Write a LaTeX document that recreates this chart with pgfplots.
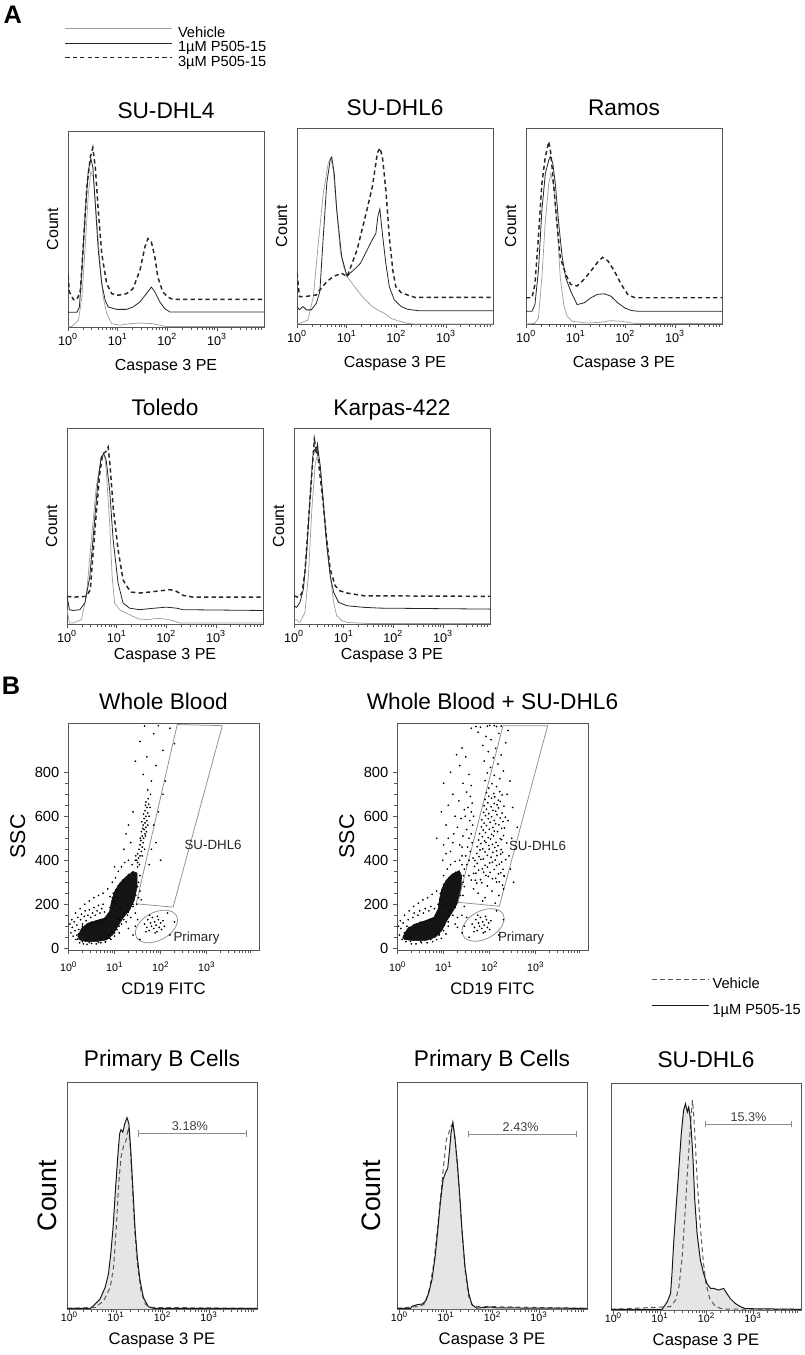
\documentclass[border=0pt]{standalone}
\usepackage{fontspec}
\setmainfont{Liberation Sans}
\usepackage{pgfplots}
\usepackage{pgfplotstable}
\pgfplotsset{compat=1.18}
\usetikzlibrary{arrows.meta}

\definecolor{vehc}{HTML}{A0A0A0}
\definecolor{boxc}{HTML}{555555}
\definecolor{gatec}{HTML}{8C8C8C}
\newcommand{\fs}[1]{\fontsize{#1}{#1}\selectfont}

% x is stored as log10 of the intensity (lx), y as percent of the panel height
% ---------- panel A ----------
\pgfplotstableread[row sep=\\]{lx y\\ 0.00 0\\ 0.08 0.3\\ 0.21 3.4\\ 0.28 15.3\\ 0.35 42.5\\ 0.41 68\\ 0.46 79.1\\ 0.51 76.5\\ 0.58 54.4\\ 0.65 30.6\\ 0.71 15.3\\ 0.78 6.8\\ 0.88 1.7\\ 1.05 0.9\\ 1.25 1.7\\ 1.45 2.0\\ 1.71 1.7\\ 1.85 0.9\\ 1.98 0.2\\ 3.95 0.2\\}\dlfourV
\pgfplotstableread[row sep=\\]{lx y\\ 0.00 7.5\\ 0.18 7.5\\ 0.23 10.2\\ 0.28 28.9\\ 0.35 59.5\\ 0.41 79.9\\ 0.46 85.9\\ 0.50 81.6\\ 0.55 62.9\\ 0.61 39.1\\ 0.68 22.1\\ 0.75 13.6\\ 0.81 10.2\\ 0.98 9.0\\ 1.18 9.0\\ 1.31 10.2\\ 1.45 12.8\\ 1.58 17.0\\ 1.68 20.4\\ 1.75 17.9\\ 1.85 12.8\\ 1.95 9.4\\ 2.05 7.7\\ 3.95 7.7\\}\dlfourL
\pgfplotstableread[row sep=\\]{lx y\\ 0.00 26.4\\ 0.03 17.9\\ 0.11 13.9\\ 0.18 13.9\\ 0.25 18.7\\ 0.31 42.5\\ 0.38 71.4\\ 0.45 86.7\\ 0.50 91.5\\ 0.55 81.6\\ 0.61 59.5\\ 0.68 37.4\\ 0.78 22.1\\ 0.88 17.0\\ 1.01 16.2\\ 1.18 17.0\\ 1.31 19.6\\ 1.45 28.9\\ 1.55 40.8\\ 1.61 45.1\\ 1.68 43.4\\ 1.75 35.7\\ 1.81 25.5\\ 1.91 17.9\\ 2.01 15.3\\ 2.11 14.1\\ 3.95 14.1\\}\dlfourH

\pgfplotstableread[row sep=\\]{lx y\\ 0.00 0\\ 0.05 0.3\\ 0.22 2.0\\ 0.33 14.0\\ 0.43 41.2\\ 0.53 66.8\\ 0.63 82.1\\ 0.68 84.7\\ 0.73 78.7\\ 0.80 58.3\\ 0.87 37.5\\ 0.94 29.3\\ 1.01 24.2\\ 1.11 20.8\\ 1.21 17.4\\ 1.35 13.1\\ 1.48 9.7\\ 1.62 7.2\\ 1.76 5.5\\ 1.89 2.9\\ 2.03 1.7\\ 2.23 0.3\\ 2.37 0\\ 3.95 0\\}\dlsixV
\pgfplotstableread[row sep=\\]{lx y\\ 0.00 8.9\\ 0.05 7.2\\ 0.12 8.9\\ 0.19 7.2\\ 0.29 7.2\\ 0.39 10.6\\ 0.46 16.5\\ 0.53 44.6\\ 0.60 71.9\\ 0.67 83.8\\ 0.70 85.2\\ 0.75 77.0\\ 0.80 58.3\\ 0.90 34.4\\ 1.01 24.2\\ 1.07 25.9\\ 1.18 28.4\\ 1.28 31.0\\ 1.38 36.1\\ 1.48 41.2\\ 1.59 46.3\\ 1.63 54.9\\ 1.67 58.6\\ 1.72 46.3\\ 1.79 31.0\\ 1.86 19.1\\ 1.96 12.3\\ 2.10 8.9\\ 2.23 7.5\\ 2.44 6.8\\ 3.95 6.8\\}\dlsixL
\pgfplotstableread[row sep=\\]{lx y\\ 0.00 25.9\\ 0.05 14.0\\ 0.16 14.0\\ 0.39 14.8\\ 0.46 17.4\\ 0.60 21.6\\ 0.73 24.2\\ 0.90 25.9\\ 1.01 24.2\\ 1.11 31.0\\ 1.21 37.8\\ 1.31 48.0\\ 1.41 58.3\\ 1.52 70.2\\ 1.62 87.2\\ 1.67 89.8\\ 1.72 85.5\\ 1.79 68.5\\ 1.86 44.6\\ 1.93 27.6\\ 1.99 19.1\\ 2.10 16.0\\ 2.23 14.8\\ 2.37 13.6\\ 3.95 13.6\\}\dlsixH

\pgfplotstableread[row sep=\\]{lx y\\ 0.00 0\\ 0.18 0.3\\ 0.25 3.1\\ 0.32 23.7\\ 0.39 52.8\\ 0.46 71.7\\ 0.50 76.8\\ 0.56 70.0\\ 0.63 49.4\\ 0.69 23.7\\ 0.76 9.9\\ 0.83 3.9\\ 0.93 1.4\\ 1.24 0.5\\ 1.51 0.9\\ 1.71 1.7\\ 1.92 1.4\\ 2.19 0.3\\ 3.95 0.3\\}\ramV
\pgfplotstableread[row sep=\\]{lx y\\ 0.00 6.5\\ 0.12 6.5\\ 0.18 9.9\\ 0.25 27.1\\ 0.32 58.0\\ 0.39 76.8\\ 0.46 83.7\\ 0.49 85.4\\ 0.54 82.0\\ 0.59 71.7\\ 0.66 51.1\\ 0.73 34.0\\ 0.80 23.7\\ 0.90 16.8\\ 1.03 9.9\\ 1.17 10.8\\ 1.31 13.4\\ 1.44 15.1\\ 1.58 15.4\\ 1.71 14.2\\ 1.85 10.8\\ 1.99 8.2\\ 2.12 6.9\\ 2.26 6.5\\ 3.95 6.5\\}\ramL
\pgfplotstableread[row sep=\\]{lx y\\ 0.00 13.4\\ 0.12 13.4\\ 0.18 20.2\\ 0.25 44.3\\ 0.32 71.7\\ 0.39 85.4\\ 0.46 93.1\\ 0.50 87.1\\ 0.56 70.0\\ 0.63 49.4\\ 0.69 34.0\\ 0.80 25.4\\ 0.90 20.2\\ 1.03 19.4\\ 1.17 22.8\\ 1.31 27.1\\ 1.44 31.4\\ 1.54 34.0\\ 1.65 32.2\\ 1.78 27.1\\ 1.92 20.2\\ 2.05 15.1\\ 2.19 13.4\\ 3.95 13.4\\}\ramH

\pgfplotstableread[row sep=\\]{lx y\\ 0.00 7.3\\ 0.05 0.5\\ 0.12 0.5\\ 0.29 2.2\\ 0.39 14.1\\ 0.49 42.9\\ 0.59 70.0\\ 0.69 85.3\\ 0.76 86.1\\ 0.79 78.5\\ 0.86 51.4\\ 0.91 24.2\\ 0.96 10.7\\ 1.06 7.3\\ 1.19 5.6\\ 1.33 3.9\\ 1.46 2.5\\ 1.66 2.2\\ 1.80 2.9\\ 2.00 2.5\\ 2.13 1.7\\ 2.27 0.5\\ 3.95 0.5\\}\tolV
\pgfplotstableread[row sep=\\]{lx y\\ 0.00 14.1\\ 0.05 7.3\\ 0.12 6.9\\ 0.26 7.3\\ 0.36 10.7\\ 0.46 24.2\\ 0.54 48.0\\ 0.62 71.7\\ 0.69 85.3\\ 0.74 86.9\\ 0.79 83.6\\ 0.86 68.3\\ 0.93 42.9\\ 1.03 20.8\\ 1.13 10.7\\ 1.26 8.1\\ 1.46 7.3\\ 1.73 8.0\\ 2.00 8.6\\ 2.20 8.1\\ 2.34 7.3\\ 3.95 6.9\\}\tolL
\pgfplotstableread[row sep=\\]{lx y\\ 0.00 14.1\\ 0.12 13.7\\ 0.39 14.1\\ 0.47 17.5\\ 0.52 34.4\\ 0.59 56.4\\ 0.66 76.8\\ 0.72 86.9\\ 0.78 87.8\\ 0.83 90.3\\ 0.87 80.2\\ 0.93 59.8\\ 1.03 37.8\\ 1.13 22.5\\ 1.23 18.3\\ 1.30 16.3\\ 1.46 15.8\\ 1.66 16.3\\ 1.87 16.9\\ 2.07 17.5\\ 2.17 17.1\\ 2.27 15.8\\ 2.34 14.6\\ 2.54 13.7\\ 3.95 13.7\\}\tolH

\pgfplotstableread[row sep=\\]{lx y\\ 0.00 3.0\\ 0.12 0.8\\ 0.22 5.9\\ 0.29 24.6\\ 0.36 58.5\\ 0.43 82.2\\ 0.47 85.6\\ 0.53 80.5\\ 0.59 63.6\\ 0.66 43.2\\ 0.73 24.6\\ 0.80 11.0\\ 0.86 4.2\\ 0.97 1.7\\ 1.07 0.8\\ 1.47 0.3\\ 3.95 0.3\\}\karV
\pgfplotstableread[row sep=\\]{lx y\\ 0.00 9.3\\ 0.05 8.5\\ 0.12 11.0\\ 0.19 17.8\\ 0.26 38.1\\ 0.32 63.6\\ 0.38 85.6\\ 0.41 89.0\\ 0.45 87.3\\ 0.48 89.8\\ 0.53 80.5\\ 0.59 61.9\\ 0.66 39.8\\ 0.73 24.6\\ 0.80 16.1\\ 0.90 11.0\\ 1.07 9.3\\ 1.41 8.5\\ 1.74 8.1\\ 3.95 7.6\\}\karL
\pgfplotstableread[row sep=\\]{lx y\\ 0.00 14.4\\ 0.09 13.6\\ 0.16 15.8\\ 0.22 26.3\\ 0.29 51.7\\ 0.36 77.1\\ 0.41 94.1\\ 0.45 88.1\\ 0.47 90.7\\ 0.51 78.8\\ 0.58 63.6\\ 0.65 44.9\\ 0.73 28.0\\ 0.83 19.5\\ 0.93 16.9\\ 1.07 15.8\\ 1.41 14.4\\ 3.95 14.1\\}\karH

% ---------- panel B: histograms ----------
\pgfplotstableread[row sep=\\]{lx y\\ -0.05 0.3\\ 0.45 0.3\\ 0.52 1.5\\ 0.66 4.4\\ 0.77 9.6\\ 0.84 15.4\\ 0.89 24.3\\ 0.94 36.0\\ 0.99 52.2\\ 1.04 66.9\\ 1.08 77.2\\ 1.11 79.0\\ 1.15 77.9\\ 1.19 81.6\\ 1.24 84.3\\ 1.28 81.6\\ 1.32 69.9\\ 1.36 55.1\\ 1.41 36.0\\ 1.46 22.8\\ 1.52 12.5\\ 1.59 5.1\\ 1.70 1.0\\ 1.81 0.3\\ 4.03 0.3\\}\hOneL
\pgfplotstableread[row sep=\\]{lx y\\ -0.05 0.3\\ 0.56 0.7\\ 0.74 3.7\\ 0.88 9.6\\ 0.95 18.4\\ 1.01 36.0\\ 1.06 55.1\\ 1.11 66.9\\ 1.16 71.3\\ 1.22 74.3\\ 1.27 80.1\\ 1.31 71.3\\ 1.36 52.2\\ 1.41 33.1\\ 1.47 18.4\\ 1.54 8.1\\ 1.63 2.2\\ 1.74 0.7\\ 4.03 0.3\\}\hOneV
\pgfplotstableread[row sep=\\]{lx y\\ -0.05 0.3\\ 0.24 0.3\\ 0.27 1.2\\ 0.38 1.9\\ 0.49 2.2\\ 0.56 3.4\\ 0.63 7.0\\ 0.70 12.9\\ 0.77 23.2\\ 0.82 33.5\\ 0.88 46.7\\ 0.94 57.0\\ 0.99 59.9\\ 1.04 62.1\\ 1.08 70.2\\ 1.11 77.5\\ 1.15 82.2\\ 1.19 76.1\\ 1.24 65.8\\ 1.29 52.6\\ 1.34 36.4\\ 1.41 18.8\\ 1.49 7.0\\ 1.56 1.9\\ 1.66 0.4\\ 1.95 0.9\\ 2.09 0.5\\ 4.03 0.3\\}\hTwoL
\pgfplotstableread[row sep=\\]{lx y\\ -0.05 0.3\\ 0.45 1.2\\ 0.56 2.6\\ 0.66 10.0\\ 0.74 20.3\\ 0.81 33.5\\ 0.88 48.2\\ 0.95 62.8\\ 1.01 74.6\\ 1.06 77.5\\ 1.11 80.5\\ 1.15 81.9\\ 1.20 74.6\\ 1.27 57.0\\ 1.34 36.4\\ 1.41 17.3\\ 1.49 5.6\\ 1.58 1.2\\ 4.03 0.3\\}\hTwoV
\pgfplotstableread[row sep=\\]{lx y\\ -0.05 0.3\\ 1.05 0.3\\ 1.09 1.5\\ 1.16 3.7\\ 1.23 7.3\\ 1.26 16.1\\ 1.30 30.8\\ 1.36 48.4\\ 1.41 63.0\\ 1.46 77.7\\ 1.51 88.0\\ 1.55 90.9\\ 1.59 87.2\\ 1.62 89.4\\ 1.66 83.6\\ 1.71 67.4\\ 1.75 48.4\\ 1.80 33.7\\ 1.87 22.0\\ 1.94 16.1\\ 2.01 11.7\\ 2.09 9.5\\ 2.16 9.5\\ 2.26 8.8\\ 2.37 9.5\\ 2.44 7.3\\ 2.51 5.1\\ 2.62 2.9\\ 2.73 1.5\\ 2.84 0.6\\ 4.03 0.3\\}\hThreeL
\pgfplotstableread[row sep=\\]{lx y\\ -0.05 0.3\\ 1.23 1.5\\ 1.34 4.4\\ 1.41 10.3\\ 1.48 23.5\\ 1.54 42.5\\ 1.59 60.1\\ 1.64 76.2\\ 1.67 85.0\\ 1.70 92.4\\ 1.73 85.0\\ 1.77 70.4\\ 1.81 54.3\\ 1.87 36.7\\ 1.93 22.0\\ 1.99 11.7\\ 2.07 5.1\\ 2.17 2.2\\ 2.30 0.7\\ 2.44 0.4\\ 4.03 0.3\\}\hThreeV

% ---------- panel B: scatter (dense core outline + events) ----------
\pgfplotstableread[row sep=\\]{lx y\\ 0.20 53\\ 0.28 91\\ 0.42 114\\ 0.60 126\\ 0.78 137\\ 0.89 167\\ 0.93 213\\ 1.00 258\\ 1.11 296\\ 1.25 326\\ 1.40 349\\ 1.49 342\\ 1.49 281\\ 1.43 220\\ 1.33 175\\ 1.18 137\\ 1.07 99\\ 0.96 61\\ 0.82 38\\ 0.60 30\\ 0.38 30\\ 0.24 38\\ 0.20 53\\}\wbcore
\pgfplotstableread[row sep=\\]{lx y\\
0.05 70\\ 0.08 95\\ 0.10 55\\ 0.12 120\\ 0.14 80\\ 0.16 40\\ 0.18 105\\ 0.20 140\\ 0.22 65\\ 0.24 25\\ 0.26 130\\ 0.28 155\\ 0.30 110\\ 0.32 20\\ 0.34 145\\ 0.36 170\\ 0.38 125\\ 0.40 18\\ 0.42 150\\ 0.45 175\\ 0.48 140\\ 0.50 22\\ 0.52 160\\ 0.55 185\\ 0.58 150\\ 0.60 20\\ 0.62 170\\ 0.65 195\\ 0.68 160\\ 0.70 25\\ 0.72 180\\ 0.75 200\\ 0.78 165\\ 0.80 28\\ 0.85 45\\ 0.88 60\\ 0.92 40\\ 0.95 75\\ 1.00 55\\ 1.05 85\\ 1.10 70\\ 1.15 110\\ 0.03 110\\ 0.07 130\\ 0.15 160\\ 0.25 180\\ 0.35 200\\ 0.45 215\\ 0.55 230\\ 0.65 240\\ 0.75 250\\ 0.85 270\\ 0.90 235\\ 0.95 300\\ 0.98 210\\
0.18 60\\ 0.22 85\\ 0.30 100\\ 0.40 108\\ 0.50 118\\ 0.62 122\\ 0.70 128\\ 0.80 133\\ 0.86 155\\ 0.90 185\\ 0.95 230\\ 1.02 265\\ 1.08 285\\ 1.18 310\\ 1.30 335\\ 1.38 345\\ 1.50 280\\ 1.46 240\\ 1.40 200\\ 1.30 165\\ 1.20 130\\ 1.10 100\\ 1.00 70\\ 0.90 45\\ 0.80 30\\ 0.65 26\\ 0.45 26\\ 0.30 30\\ 0.20 42\\
1.02 320\\ 1.05 200\\ 1.08 350\\ 1.12 180\\ 1.15 370\\ 1.20 160\\ 1.22 390\\ 1.28 150\\ 1.30 400\\ 1.35 140\\ 1.38 380\\ 1.45 160\\ 1.48 200\\ 1.52 230\\ 1.55 260\\ 1.52 300\\ 1.55 330\\ 1.50 370\\ 1.45 400\\ 1.00 370\\ 0.97 250\\ 1.10 130\\ 1.25 120\\ 1.40 190\\ 1.58 220\\
1.48 400\\ 1.52 410\\ 1.55 420\\ 1.50 430\\ 1.58 440\\ 1.53 450\\ 1.60 460\\ 1.55 470\\ 1.62 480\\ 1.57 490\\ 1.63 500\\ 1.60 510\\ 1.66 520\\ 1.58 530\\ 1.64 540\\ 1.68 550\\ 1.62 560\\ 1.66 570\\ 1.70 580\\ 1.64 590\\ 1.68 600\\ 1.72 615\\ 1.66 625\\ 1.70 640\\ 1.74 655\\ 1.68 665\\ 1.73 680\\ 1.50 390\\ 1.46 420\\ 1.54 380\\ 1.60 420\\ 1.65 450\\ 1.56 500\\ 1.67 510\\ 1.61 545\\ 1.59 575\\ 1.69 530\\ 1.72 560\\ 1.63 610\\ 1.75 600\\ 1.67 650\\ 1.77 640\\
1.78 700\\ 1.72 720\\ 1.80 760\\ 1.62 790\\ 1.90 830\\ 1.70 870\\ 2.05 900\\ 1.55 940\\ 1.85 975\\ 2.20 1000\\ 1.95 1012\\ 1.65 1010\\ 2.10 760\\ 1.45 850\\ 2.30 930\\
1.85 560\\ 1.95 620\\ 1.90 480\\ 2.05 700\\ 1.80 450\\ 2.00 400\\ 1.75 380\\ 1.30 560\\ 1.40 620\\ 1.35 480\\ 1.20 450\\ 1.25 520\\
1.65 110\\ 1.70 95\\ 1.72 130\\ 1.75 80\\ 1.78 115\\ 1.80 100\\ 1.82 140\\ 1.85 90\\ 1.87 120\\ 1.90 105\\ 1.92 75\\ 1.95 130\\ 1.97 95\\ 2.00 115\\ 2.02 85\\ 2.05 125\\ 1.88 70\\ 1.76 150\\ 1.68 75\\ 1.93 145\\ 2.08 100\\ 1.45 100\\ 1.50 130\\ 1.40 60\\ 1.55 40\\ 1.30 90\\ 2.20 60\\ 2.15 160\\ 2.30 120\\}\wbdots

\pgfplotstableread[row sep=\\]{lx y\\ 0.11 50\\ 0.21 88\\ 0.39 111\\ 0.61 126\\ 0.79 141\\ 0.88 179\\ 0.91 224\\ 0.96 270\\ 1.05 308\\ 1.19 338\\ 1.34 353\\ 1.39 330\\ 1.38 270\\ 1.31 209\\ 1.19 164\\ 1.07 126\\ 0.96 80\\ 0.82 50\\ 0.61 35\\ 0.36 35\\ 0.16 39\\ 0.11 50\\}\wscore
\pgfplotstableread[row sep=\\]{lx y\\
0.04 60\\ 0.07 90\\ 0.10 40\\ 0.12 115\\ 0.15 70\\ 0.18 30\\ 0.20 100\\ 0.23 130\\ 0.26 55\\ 0.30 20\\ 0.33 140\\ 0.36 160\\ 0.40 20\\ 0.44 150\\ 0.48 170\\ 0.52 25\\ 0.56 160\\ 0.60 180\\ 0.64 25\\ 0.68 170\\ 0.72 190\\ 0.76 30\\ 0.80 180\\ 0.85 40\\ 0.90 60\\ 0.95 45\\ 1.00 80\\ 1.05 65\\ 1.10 100\\ 0.02 100\\ 0.06 125\\ 0.15 150\\ 0.25 170\\ 0.35 190\\ 0.45 205\\ 0.55 220\\ 0.65 230\\ 0.75 245\\ 0.85 260\\ 0.92 220\\
0.14 45\\ 0.25 95\\ 0.35 105\\ 0.50 118\\ 0.70 130\\ 0.84 150\\ 0.88 200\\ 0.93 250\\ 1.00 290\\ 1.12 320\\ 1.26 345\\ 1.42 300\\ 1.36 240\\ 1.25 185\\ 1.12 145\\ 1.02 105\\ 0.90 65\\ 0.72 40\\ 0.50 30\\ 0.28 32\\
1.00 330\\ 1.05 200\\ 1.08 360\\ 1.12 170\\ 1.15 380\\ 1.20 150\\ 1.25 395\\ 1.30 140\\ 1.35 400\\ 1.40 150\\ 1.45 190\\ 1.42 240\\ 1.45 280\\ 1.43 330\\ 1.40 380\\ 0.96 260\\ 1.10 120\\ 1.25 110\\ 0.98 400\\ 1.05 430\\ 1.15 440\\ 1.20 480\\ 1.10 500\\ 1.00 470\\
1.72 296\\ 1.95 283\\ 2.15 301\\ 2.28 287\\ 1.69 309\\ 1.83 298\\ 2.06 316\\ 2.21 302\\ 1.80 312\\ 1.97 327\\ 2.13 318\\ 2.31 329\\ 1.70 341\\ 1.92 331\\ 2.01 345\\ 2.19 338\\ 2.32 328\\ 1.76 355\\ 1.87 346\\ 2.10 358\\ 2.24 343\\ 1.67 372\\ 1.84 361\\ 1.95 369\\ 2.15 376\\ 2.29 359\\ 1.73 386\\ 1.90 377\\ 2.06 391\\ 2.21 382\\ 1.68 399\\ 1.81 404\\ 2.00 388\\ 2.12 401\\ 2.26 392\\ 1.77 417\\ 1.86 406\\ 2.03 414\\ 2.16 421\\ 2.35 403\\ 1.72 431\\ 1.95 422\\ 2.07 436\\ 2.24 428\\ 1.79 447\\ 1.90 438\\ 1.99 451\\ 2.15 443\\ 2.28 436\\ 1.73 462\\ 1.85 452\\ 1.98 467\\ 2.11 458\\ 2.25 449\\ 1.81 476\\ 1.92 481\\ 2.06 472\\ 2.18 466\\ 2.37 479\\ 1.76 492\\ 1.89 488\\ 2.02 497\\ 2.14 481\\ 2.26 494\\ 1.84 507\\ 1.97 503\\ 2.08 511\\ 2.23 498\\ 1.78 521\\ 1.91 526\\ 2.04 518\\ 2.17 530\\ 2.30 512\\ 1.86 537\\ 1.99 541\\ 2.10 533\\ 2.26 545\\ 1.82 552\\ 1.93 558\\ 2.07 549\\ 2.20 561\\ 2.32 547\\ 1.88 569\\ 2.01 573\\ 2.13 566\\ 2.29 576\\ 1.83 584\\ 1.97 589\\ 2.10 581\\ 2.23 592\\ 1.91 603\\ 2.04 598\\ 2.16 607\\ 2.34 596\\ 1.87 618\\ 1.98 612\\ 2.13 623\\ 2.27 615\\ 1.93 632\\ 2.07 627\\ 2.19 638\\ 1.88 648\\ 2.03 643\\ 2.16 652\\ 2.31 646\\ 1.96 661\\ 2.10 658\\ 2.23 667\\ 1.90 676\\ 2.04 682\\ 2.19 673\\ 1.98 691\\ 2.11 688\\ 2.27 697\\ 1.93 707\\ 2.09 703\\ 2.22 712\\
1.98 728\\ 2.15 735\\ 2.05 748\\ 1.90 762\\ 2.22 771\\ 2.10 786\\ 1.95 797\\ 2.30 806\\ 2.02 822\\ 2.18 838\\ 1.88 851\\ 2.08 866\\ 2.25 879\\ 1.97 894\\ 2.13 909\\ 1.85 922\\ 2.35 934\\ 2.03 948\\ 1.92 963\\ 2.20 977\\ 2.40 990\\ 1.80 1005\\ 1.95 1010\\ 2.10 1012\\ 2.25 1010\\ 1.70 1008\\ 2.00 1013\\ 2.15 1008\\ 1.60 1000\\ 1.75 982\\
2.42 420\\ 2.48 500\\ 2.40 580\\ 2.50 640\\ 2.45 360\\ 2.55 450\\ 2.38 700\\ 2.60 550\\ 2.44 760\\ 2.52 300\\ 1.75 250\\ 1.90 230\\ 2.05 260\\ 2.20 240\\ 1.85 215\\ 2.12 205\\ 2.30 270\\ 1.65 270\\
1.45 360\\ 1.50 380\\ 1.55 400\\ 1.48 420\\ 1.58 440\\ 1.52 460\\ 1.62 480\\ 1.55 500\\ 1.60 520\\ 1.50 540\\ 1.63 560\\ 1.57 580\\ 1.47 600\\ 1.60 620\\ 1.53 640\\ 1.62 660\\ 1.58 690\\ 1.40 420\\ 1.35 470\\ 1.42 510\\ 1.30 550\\ 1.38 590\\ 1.45 630\\ 1.33 670\\ 1.50 710\\ 1.42 750\\ 1.55 790\\ 1.35 830\\ 1.48 870\\ 1.40 910\\ 1.60 740\\ 1.65 600\\ 1.64 410\\ 1.65 340\\ 1.60 310\\ 1.55 330\\ 1.40 460\\ 1.25 600\\ 1.20 700\\ 1.10 650\\ 1.15 800\\ 1.05 560\\ 0.95 620\\ 1.28 880\\ 1.00 750\\ 0.85 500\\ 1.22 520\\
1.62 110\\ 1.67 95\\ 1.70 130\\ 1.73 80\\ 1.76 115\\ 1.78 100\\ 1.80 140\\ 1.83 90\\ 1.85 120\\ 1.88 105\\ 1.90 75\\ 1.93 130\\ 1.95 95\\ 1.98 115\\ 2.00 85\\ 2.03 125\\ 1.86 70\\ 1.74 150\\ 1.66 75\\ 1.91 145\\ 1.45 100\\ 1.50 140\\ 1.40 70\\ 1.55 50\\ 1.30 95\\ 2.20 60\\ 2.15 170\\ 2.30 130\\}\wsdots

\pgfplotsset{
  /pgf/number format/assume math mode=true,
  fcsdecades/.style={xtick={1,10,100,1000},
    xticklabels={10\textsuperscript{0},10\textsuperscript{1},10\textsuperscript{2},10\textsuperscript{3}},
    minor xtick={2,3,...,9,20,30,...,90,200,300,...,900,2000,3000,...,9000}},
  fcsbox/.style={scale only axis, tick align=outside, xtick pos=left,
    major tick length=3pt, minor tick length=2pt,
    axis line style={boxc, line width=0.6pt}, tick style={boxc, line width=0.5pt},
    title style={font=\fs{17}, anchor=base}},
  fcsA/.style={fcsbox, fcsdecades, width=147pt, height=147pt, xmin=1, xmax=8913,
    ymin=0, ymax=100, ytick=\empty,
    xticklabel style={font=\fs{9.5}, anchor=base, yshift=-10.5pt},
    title style={at={(axis description cs:0.5,1.025)}},
    xlabel={Caspase 3 PE}, xlabel style={font=\fs{12}, at={(axis description cs:0.5,-0.22)}, anchor=base},
    ylabel={Count}, ylabel style={font=\fs{12}, at={(axis description cs:-0.05,0.5)}, anchor=base}},
  fcsS/.style={fcsbox, fcsdecades, width=143.25pt, height=170.25pt, xmin=0.97, xmax=13700,
    ymin=-8, ymax=1024, ytick={0,200,400,600,800}, minor y tick num=3, ytick pos=left,
    xticklabel style={font=\fs{8}, anchor=base, yshift=-13pt},
    yticklabel style={font=\fs{11}},
    title style={at={(axis description cs:0.5,1.026)}},
    xlabel={CD19 FITC}, xlabel style={font=\fs{12.5}, at={(axis description cs:0.5,-0.198)}, anchor=base},
    ylabel={SSC}, ylabel style={font=\fs{16}, at={(axis description cs:-0.225,0.5)}, anchor=base}},
  fcsH/.style={fcsbox, fcsdecades, width=142.5pt, height=170.25pt, xmin=0.89, xmax=10800,
    ymin=0, ymax=100, ytick=\empty,
    xticklabel style={font=\fs{8}, anchor=base, yshift=-6.5pt},
    title style={at={(axis description cs:0.5,1.034)}},
    xlabel={Caspase 3 PE}, xlabel style={font=\fs{12.5}, at={(axis description cs:0.5,-0.158)}, anchor=base},
    ylabel style={font=\fs{20}, anchor=base}},
}

\begin{document}
\begin{tikzpicture}
\useasboundingbox (0,0) rectangle (603.75pt,-1016.25pt);

\node[anchor=base west, font=\bfseries\fs{19}, inner sep=0pt] at (2.5pt,-17.5pt) {A};
\node[anchor=base west, font=\bfseries\fs{19}, inner sep=0pt] at (1.3pt,-520.5pt) {B};

% ---------------- A ----------------
\begin{axis}[xmode=log, fcsA, at={(51pt,-98.25pt)}, anchor=north west, title={SU-DHL4},
  legend image code/.code={\draw[#1] (0pt,3.9pt) -- (80pt,3.9pt);},
  legend style={draw=none, fill=none, at={(axis description cs:-0.019,1.535)}, anchor=north west,
    inner sep=0pt, column sep=3.5pt, font=\fs{11},
    nodes={inner sep=0.5pt, text height=7.6pt, text depth=2.3pt}},
  legend cell align=left]
\addplot[color=vehc, line width=0.55pt] table[x expr=10^\thisrow{lx}, y=y] {\dlfourV};
\addlegendentry{Vehicle}
\addplot[color=black!85, line width=0.6pt] table[x expr=10^\thisrow{lx}, y=y] {\dlfourL};
\addlegendentry{1µM P505-15}
\addplot[color=black!85, line width=1.1pt, dash pattern=on 3.2pt off 2.4pt] table[x expr=10^\thisrow{lx}, y=y] {\dlfourH};
\addlegendentry{3µM P505-15}
\end{axis}

\begin{axis}[xmode=log, fcsA, at={(222.75pt,-96pt)}, anchor=north west, title={SU-DHL6}]
\addplot[color=vehc, line width=0.55pt] table[x expr=10^\thisrow{lx}, y=y] {\dlsixV};
\addplot[color=black!85, line width=0.6pt] table[x expr=10^\thisrow{lx}, y=y] {\dlsixL};
\addplot[color=black!85, line width=1.1pt, dash pattern=on 3.2pt off 2.4pt] table[x expr=10^\thisrow{lx}, y=y] {\dlsixH};
\end{axis}

\begin{axis}[xmode=log, fcsA, at={(394.5pt,-96pt)}, anchor=north west, title={Ramos}]
\addplot[color=vehc, line width=0.55pt] table[x expr=10^\thisrow{lx}, y=y] {\ramV};
\addplot[color=black!85, line width=0.6pt] table[x expr=10^\thisrow{lx}, y=y] {\ramL};
\addplot[color=black!85, line width=1.1pt, dash pattern=on 3.2pt off 2.4pt] table[x expr=10^\thisrow{lx}, y=y] {\ramH};
\end{axis}

\begin{axis}[xmode=log, fcsA, at={(50.25pt,-321pt)}, anchor=north west, title={Toledo},
  xlabel style={at={(axis description cs:0.5,-0.179)}}]
\addplot[color=vehc, line width=0.55pt] table[x expr=10^\thisrow{lx}, y=y] {\tolV};
\addplot[color=black!85, line width=0.6pt] table[x expr=10^\thisrow{lx}, y=y] {\tolL};
\addplot[color=black!85, line width=1.1pt, dash pattern=on 3.2pt off 2.4pt] table[x expr=10^\thisrow{lx}, y=y] {\tolH};
\end{axis}

\begin{axis}[xmode=log, fcsA, at={(220.5pt,-321pt)}, anchor=north west, title={Karpas-422},
  xlabel style={at={(axis description cs:0.5,-0.179)}}]
\addplot[color=vehc, line width=0.55pt] table[x expr=10^\thisrow{lx}, y=y] {\karV};
\addplot[color=black!85, line width=0.6pt] table[x expr=10^\thisrow{lx}, y=y] {\karL};
\addplot[color=black!85, line width=1.1pt, dash pattern=on 3.2pt off 2.4pt] table[x expr=10^\thisrow{lx}, y=y] {\karH};
\end{axis}

% ---------------- B: scatter ----------------
\begin{axis}[xmode=log, fcsS, at={(51pt,-542.25pt)}, anchor=north west, title={Whole Blood}]
\addplot[fill=black!92, draw=black!92, line width=0.4pt, forget plot] table[x expr=10^\thisrow{lx}, y=y] {\wbcore};
\addplot[only marks, mark=*, mark size=0.42pt, mark options={draw=none, fill=black}] table[x expr=10^\thisrow{lx}, y=y] {\wbdots};
\draw[gatec, line width=0.55pt] (axis cs:229,1017) -- (axis cs:2188,1012) -- (axis cs:186,187) -- (axis cs:29.5,202) -- cycle;
\draw[gatec, line width=0.55pt, rotate around={28:(axis cs:81,99)}] (axis cs:81,99) ellipse [x radius=17pt, y radius=10.5pt];
\node[font=\fs{10}, text=black!85] at (axis cs:1380,470) {SU-DHL6};
\node[font=\fs{10}, text=black!85] at (axis cs:600,48) {Primary};
\end{axis}

\begin{axis}[xmode=log, fcsS, at={(297.75pt,-542.25pt)}, anchor=north west, title={Whole Blood + SU-DHL6}]
\addplot[fill=black!92, draw=black!92, line width=0.4pt, forget plot] table[x expr=10^\thisrow{lx}, y=y] {\wscore};
\addplot[only marks, mark=*, mark size=0.42pt, mark options={draw=none, fill=black}] table[x expr=10^\thisrow{lx}, y=y] {\wsdots};
\draw[gatec, line width=0.55pt] (axis cs:195,1012) -- (axis cs:1820,1012) -- (axis cs:162,191) -- (axis cs:20.4,209) -- cycle;
\draw[gatec, line width=0.55pt, rotate around={28:(axis cs:72,106)}] (axis cs:72,106) ellipse [x radius=17pt, y radius=10.5pt];
\node[font=\fs{10}, text=black!85] at (axis cs:1100,467) {SU-DHL6};
\node[font=\fs{10}, text=black!85] at (axis cs:480,48) {Primary};
\end{axis}

% ---------------- B: histograms ----------------
\begin{axis}[xmode=log, fcsH, at={(50.25pt,-811.5pt)}, anchor=north west, title={Primary B Cells},
  ylabel={Count}, ylabel style={at={(axis description cs:-0.053,0.5)}}]
\addplot[draw=none, fill=black!10, forget plot] table[x expr=10^\thisrow{lx}, y=y] {\hOneL} \closedcycle;
\addplot[color=black!65, line width=0.75pt, dash pattern=on 3.5pt off 2.5pt] table[x expr=10^\thisrow{lx}, y=y] {\hOneV};
\addplot[color=black!90, line width=0.75pt] table[x expr=10^\thisrow{lx}, y=y] {\hOneL};
\draw[gatec, line width=0.55pt, {Bar[width=5pt]}-{Bar[width=5pt]}] (axis cs:30.5,77.2) -- (axis cs:6450,77.2);
\node[anchor=base, font=\fs{9.5}, text=black!75] at (axis cs:390,78.5) {3.18\%};
\end{axis}

\begin{axis}[xmode=log, fcsH, at={(297.75pt,-811.5pt)}, anchor=north west, title={Primary B Cells},
  ylabel={Count}, ylabel style={at={(axis description cs:-0.088,0.5)}}]
\addplot[draw=none, fill=black!10, forget plot] table[x expr=10^\thisrow{lx}, y=y] {\hTwoL} \closedcycle;
\addplot[color=black!65, line width=0.75pt, dash pattern=on 3.5pt off 2.5pt] table[x expr=10^\thisrow{lx}, y=y] {\hTwoV};
\addplot[color=black!90, line width=0.75pt] table[x expr=10^\thisrow{lx}, y=y] {\hTwoL};
\draw[gatec, line width=0.55pt, {Bar[width=5pt]}-{Bar[width=5pt]}] (axis cs:30.5,77.1) -- (axis cs:6450,77.1);
\node[anchor=base, font=\fs{9.5}, text=black!75] at (axis cs:405,78.4) {2.43\%};
\end{axis}

\begin{axis}[xmode=log, fcsH, at={(458.25pt,-812.25pt)}, anchor=north west, title={SU-DHL6},
  legend image code/.code={\draw[#1] (0pt,3.9pt) -- (43pt,3.9pt);},
  legend style={draw=none, fill=none, at={(axis description cs:0.212,1.465)}, anchor=north west,
    inner sep=0pt, column sep=1.5pt, row sep=8.6pt, font=\fs{11},
    nodes={inner sep=0.5pt, text height=7.6pt, text depth=2.3pt}},
  legend cell align=left]
\addplot[draw=none, fill=black!10, forget plot] table[x expr=10^\thisrow{lx}, y=y] {\hThreeL} \closedcycle;
\addplot[color=black!65, line width=0.75pt, dash pattern=on 3.5pt off 2.5pt] table[x expr=10^\thisrow{lx}, y=y] {\hThreeV};
\addlegendentry{Vehicle}
\addplot[color=black!90, line width=0.75pt] table[x expr=10^\thisrow{lx}, y=y] {\hThreeL};
\addlegendentry{1µM P505-15}
\draw[gatec, line width=0.55pt, {Bar[width=5pt]}-{Bar[width=5pt]}] (axis cs:91.8,81.9) -- (axis cs:6840,81.9);
\node[anchor=base, font=\fs{9.5}, text=black!75] at (axis cs:804,83) {15.3\%};
\end{axis}
\end{tikzpicture}
\end{document}
